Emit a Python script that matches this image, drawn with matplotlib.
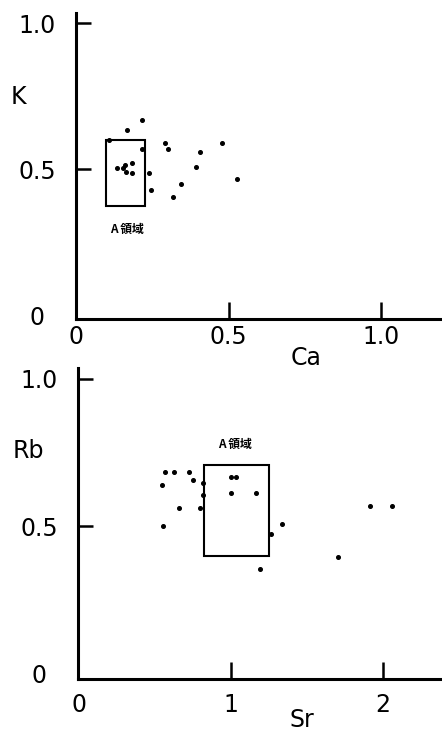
import matplotlib
matplotlib.use("Agg")
import matplotlib.pyplot as plt
from matplotlib.patches import Rectangle

plt.rcParams['font.family'] = ['DejaVu Sans']

# Upper panel: K versus Ca
ca = [0.135, 0.155, 0.162, 0.185, 0.165, 0.184, 0.217, 0.109, 0.166, 0.216,
      0.240, 0.246, 0.293, 0.303, 0.344, 0.317, 0.394, 0.408, 0.479, 0.528]
k = [0.505, 0.505, 0.516, 0.523, 0.491, 0.488, 0.568, 0.600, 0.635, 0.668,
     0.487, 0.428, 0.589, 0.568, 0.449, 0.406, 0.509, 0.559, 0.590, 0.467]
box_ca = (0.097, 0.226)
box_k = (0.374, 0.600)

# Lower panel: Rb versus Sr
sr = [0.566, 0.627, 0.728, 0.550, 0.754, 0.820, 0.816, 0.660, 0.796, 0.557,
      1.002, 1.033, 1.002, 1.166, 1.338, 1.265, 1.193, 1.704, 1.916, 2.059]
rb = [0.683, 0.684, 0.685, 0.641, 0.655, 0.646, 0.605, 0.562, 0.562, 0.499,
      0.665, 0.667, 0.613, 0.614, 0.507, 0.474, 0.354, 0.394, 0.570, 0.568]
box_sr = (0.824, 1.250)
box_rb = (0.398, 0.707)

region_label = "A 領域"

W, H = 442, 732
FS = 17
fig = plt.figure(figsize=(W / 100, H / 100), dpi=100)


def px_axes(left, top, right, bottom):
    return fig.add_axes([left / W, 1 - bottom / H, (right - left) / W, (bottom - top) / H])


def style(ax, xticks, xlabels, yticks, ylabels, xpad):
    for s in ('top', 'right'):
        ax.spines[s].set_visible(False)
    for s in ('left', 'bottom'):
        ax.spines[s].set_linewidth(2.2)
    ax.set_xticks(xticks)
    ax.set_xticklabels(xlabels, fontsize=FS)
    ax.set_yticks(yticks)
    ax.set_yticklabels(ylabels, fontsize=FS)
    ax.tick_params(axis='x', direction='in', length=12, width=1.8, pad=xpad)
    ax.tick_params(axis='y', direction='in', length=11, width=1.8, pad=28)
    for lab in ax.get_yticklabels():
        lab.set_horizontalalignment('center')
    # no tick marks at the origin
    ax.xaxis.get_major_ticks()[0].tick1line.set_visible(False)
    ax.yaxis.get_major_ticks()[0].tick1line.set_visible(False)


# ---- upper panel ----
ax1 = px_axes(76, 13, 442, 319)
ax1.set_xlim(0, 1.2)
ax1.set_ylim(-0.0127, 1.035)
ax1.plot(ca, k, 'o', color='black', markersize=2.6, clip_on=False)
ax1.add_patch(Rectangle((box_ca[0], box_k[0]), box_ca[1] - box_ca[0], box_k[1] - box_k[0],
                        fill=False, edgecolor='black', linewidth=1.5))
ax1.text(0.166, 0.295, region_label, fontsize=8.5, ha='center', va='center',
         family=['Noto Sans CJK JP', 'DejaVu Sans'], fontweight='bold')
style(ax1, [0, 0.5, 1.0], ['0', '0.5', '1.0'], [0, 0.5, 1.0], ['0', '0.5', '1.0'], 4)
fig.text(18 / W, 1 - 97 / H, 'K', fontsize=FS, ha='center', va='center')
fig.text(306 / W, 1 - 358 / H, 'Ca', fontsize=FS, ha='center', va='center')

# ---- lower panel ----
ax2 = px_axes(78, 368, 442, 679)
ax2.set_xlim(-0.005, 2.39)
ax2.set_ylim(-0.018, 1.036)
ax2.plot(sr, rb, 'o', color='black', markersize=2.6, clip_on=False)
ax2.add_patch(Rectangle((box_sr[0], box_rb[0]), box_sr[1] - box_sr[0], box_rb[1] - box_rb[0],
                        fill=False, edgecolor='black', linewidth=1.5))
ax2.text(1.03, 0.778, region_label, fontsize=8.5, ha='center', va='center',
         family=['Noto Sans CJK JP', 'DejaVu Sans'], fontweight='bold')
style(ax2, [0, 1, 2], ['0', '1', '2'], [0, 0.5, 1.0], ['0', '0.5', '1.0'], 10)
fig.text(28 / W, 1 - 451 / H, 'Rb', fontsize=FS, ha='center', va='center')
fig.text(302 / W, 1 - 720 / H, 'Sr', fontsize=FS, ha='center', va='center')

fig.savefig('out.png', dpi=100, facecolor='white')
